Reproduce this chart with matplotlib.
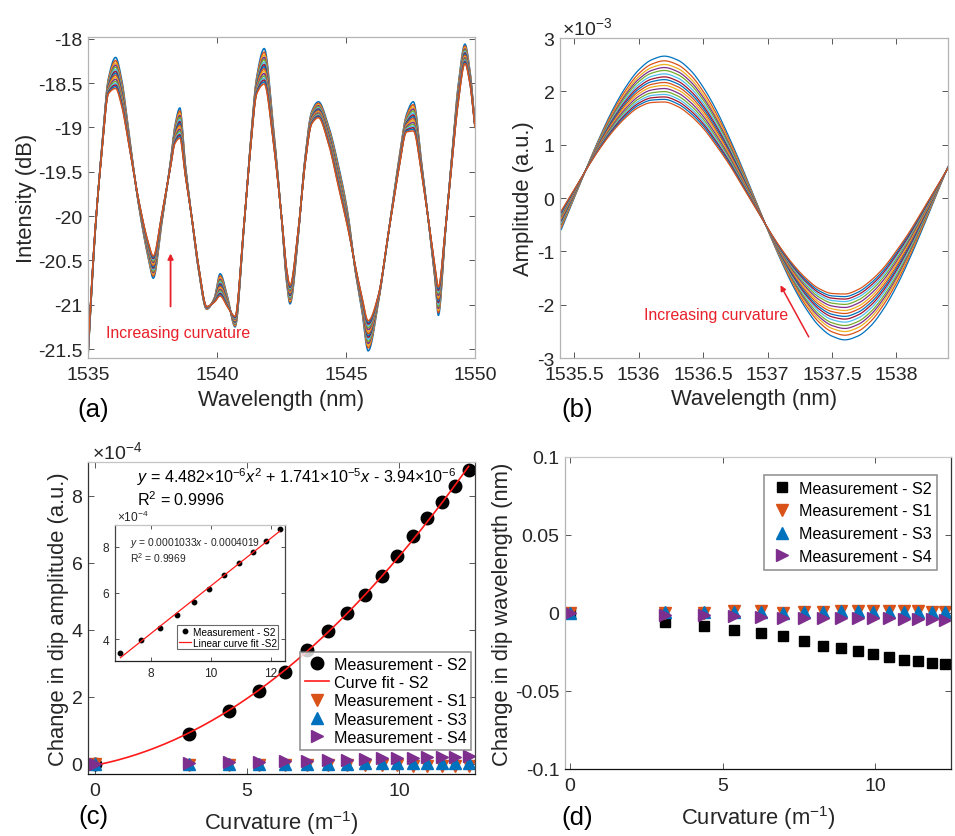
import numpy as np
import matplotlib
matplotlib.use("Agg")
import matplotlib.pyplot as plt
from matplotlib.ticker import FormatStrFormatter

# ---------------------------------------------------------------------------
# Data
# ---------------------------------------------------------------------------

# curvature steps (1/m), shared by panels (c) and (d)
curvature = [0, 3.10, 4.40, 5.38, 6.24, 6.98, 7.67, 8.29, 8.88, 9.44,
             9.94, 10.45, 10.93, 11.40, 11.85, 12.29]

# change in dip amplitude, units of 1e-4 a.u.
amp_s2 = [0, 0.89, 1.59, 2.18, 2.74, 3.39, 3.97, 4.49, 5.04, 5.61,
          6.19, 6.78, 7.32, 7.80, 8.27, 8.77]
amp_s1 = [0, -0.02, -0.02, -0.03, -0.03, -0.03, -0.03, -0.04, -0.04, -0.04,
          -0.04, -0.05, -0.05, -0.05, -0.05, -0.05]
amp_s3 = [0, 0.00, 0.00, 0.01, 0.01, 0.01, 0.01, 0.01, 0.02, 0.02,
          0.02, 0.02, 0.02, 0.02, 0.02, 0.02]
amp_s4 = [0, 0.03, 0.05, 0.07, 0.09, 0.09, 0.11, 0.13, 0.15, 0.17,
          0.18, 0.19, 0.20, 0.21, 0.22, 0.23]

# change in dip wavelength (nm)
wl_s2 = [0, -0.0058, -0.0083, -0.0109, -0.0130, -0.0150, -0.0179, -0.0214,
         -0.0224, -0.0244, -0.0263, -0.0282, -0.0301, -0.0310, -0.0321, -0.0329]
wl_s1 = [0, 0.0003, 0.0003, 0.0010, 0.0010, 0.0003, 0.0005, 0.0005,
         0.0015, 0.0015, 0.0010, 0.0010, 0.0010, 0.0010, 0.0005, 0.0008]
wl_s3 = [0, 0.0008, 0.0005, 0.0008, 0.0008, 0.0003, 0.0005, 0.0005,
         0.0010, 0.0010, 0.0008, 0.0008, 0.0008, 0.0008, 0.0005, 0.0005]
wl_s4 = [0, -0.0010, -0.0015, -0.0020, -0.0025, -0.0030, -0.0030, -0.0030,
         -0.0030, -0.0033, -0.0035, -0.0035, -0.0038, -0.0038, -0.0040, -0.0043]

# fitted curves as printed on the panel
quad_fit = (4.482e-6, 1.741e-5, -3.94e-6)
lin_fit = (0.0001033, -0.0004019)
inset_from = 5  # inset shows the points from curvature index 5 onwards

# transmission spectrum (a): wavelength knots, straight fibre and max-curvature traces
spec_wl = [1535.00, 1535.27, 1535.53, 1535.79, 1536.07, 1536.30, 1536.56, 1536.95,
           1537.34, 1537.53, 1537.85, 1538.18, 1538.37, 1538.56, 1538.76, 1539.02,
           1539.28, 1539.60, 1539.90, 1540.12, 1540.40, 1540.70, 1541.02, 1541.28,
           1541.54, 1541.83, 1542.18, 1542.51, 1542.70, 1542.83, 1543.15, 1543.41,
           1543.67, 1543.93, 1544.31, 1544.70, 1545.09, 1545.35, 1545.61, 1545.86,
           1546.25, 1546.64, 1547.03, 1547.35, 1547.61, 1547.93, 1548.26, 1548.45,
           1548.58, 1548.84, 1549.10, 1549.35, 1549.61, 1549.80, 1550.00]
spec_first = [-21.60, -20.22, -19.24, -18.45, -18.21, -18.45, -19.00, -19.85,
              -20.48, -20.70, -20.10, -19.42, -18.98, -18.78, -19.38, -20.01,
              -20.60, -21.05, -20.92, -20.65, -20.90, -21.25, -20.22, -19.24,
              -18.43, -18.11, -18.98, -20.05, -20.75, -20.99, -20.22, -19.35,
              -18.82, -18.71, -18.97, -19.42, -20.00, -20.60, -21.05, -21.52,
              -20.98, -20.20, -19.40, -18.85, -18.71, -19.40, -20.22, -20.72,
              -21.12, -20.22, -19.33, -18.52, -18.06, -18.35, -18.96]
spec_last = [-21.50, -20.18, -19.30, -18.62, -18.56, -18.75, -19.15, -19.80,
             -20.30, -20.45, -20.00, -19.48, -19.18, -19.12, -19.52, -20.01,
             -20.55, -21.02, -20.97, -20.90, -21.02, -21.13, -20.18, -19.30,
             -18.62, -18.51, -19.16, -20.03, -20.60, -20.78, -20.15, -19.42,
             -18.96, -18.89, -19.17, -19.66, -20.16, -20.55, -20.90, -21.18,
             -20.90, -20.20, -19.50, -19.05, -19.04, -19.52, -20.18, -20.58,
             -20.80, -20.18, -19.40, -18.72, -18.28, -18.50, -19.00]

# band-pass filtered spectrum (b), units of 1e-3 a.u.
fsr_wl = [1535.4, 1535.5, 1535.6, 1535.7, 1535.8, 1535.9, 1536.0, 1536.1,
          1536.2, 1536.3, 1536.4, 1536.5, 1536.6, 1536.7, 1536.8, 1536.9,
          1537.0, 1537.1, 1537.2, 1537.3, 1537.4, 1537.5, 1537.6, 1537.7,
          1537.8, 1537.9, 1538.0, 1538.1, 1538.2, 1538.3, 1538.4]
fsr_first = [-0.59, 0.00, 0.59, 1.15, 1.66, 2.08, 2.40, 2.59, 2.66, 2.59, 2.40,
             2.08, 1.66, 1.15, 0.59, 0.00, -0.59, -1.15, -1.66, -2.08, -2.40,
             -2.59, -2.66, -2.59, -2.40, -2.08, -1.66, -1.15, -0.59, 0.00, 0.59]
fsr_last = [-0.24, 0.16, 0.56, 0.93, 1.25, 1.51, 1.70, 1.79, 1.80, 1.72, 1.55,
            1.31, 0.99, 0.64, 0.24, -0.16, -0.56, -0.93, -1.25, -1.51, -1.70,
            -1.79, -1.80, -1.72, -1.55, -1.31, -0.99, -0.64, -0.24, 0.16, 0.56]

# ---------------------------------------------------------------------------
# Style
# ---------------------------------------------------------------------------

plt.rcParams.update({
    "font.family": ["Liberation Sans", "DejaVu Sans"],
    "mathtext.fontset": "custom",
    "mathtext.rm": "Liberation Sans",
    "mathtext.it": "Liberation Sans:italic",
    "mathtext.bf": "Liberation Sans:bold",
    "axes.unicode_minus": False,
    "xtick.direction": "in",
    "ytick.direction": "in",
    "xtick.top": True,
    "ytick.right": True,
})

ML_COLORS = ["#0072BD", "#D95319", "#EDB120", "#7E2F8E",
             "#77AC30", "#4DBEEE", "#A2142F"]
C_S1, C_S3, C_S4 = "#D95319", "#0072BD", "#7E2F8E"
RED = "#e8202a"
TXT = "#262626"
W, H = 955, 837


def rect(l, t, r, b):
    return [l / W, 1 - b / H, (r - l) / W, (b - t) / H]


def style(ax, fs, spines, pad=6):
    for side, col in zip(("left", "bottom", "top", "right"), spines):
        ax.spines[side].set_color(col)
        ax.spines[side].set_linewidth(0.9)
    ax.tick_params(labelsize=fs, labelcolor=TXT, length=4, width=0.7,
                   color="#555555")
    ax.tick_params(axis="x", pad=pad)
    ax.tick_params(axis="y", pad=4)


def labels(ax, xl, yl, xy, yx, fs=15.8):
    ax.set_xlabel(xl, fontsize=fs, color=TXT, va="center")
    ax.set_ylabel(yl, fontsize=fs, color=TXT, va="center")
    ax.xaxis.set_label_coords(0.5, xy)
    ax.yaxis.set_label_coords(yx, 0.5)


def pchip(xk, yk, xs):
    """Shape-preserving cubic through the knots."""
    xk = np.asarray(xk, float)
    yk = np.asarray(yk, float)
    h = np.diff(xk)
    d = np.diff(yk) / h
    m = np.zeros_like(yk)
    m[0], m[-1] = d[0], d[-1]
    for k in range(1, len(xk) - 1):
        if d[k - 1] * d[k] > 0:
            w1 = 2 * h[k] + h[k - 1]
            w2 = h[k] + 2 * h[k - 1]
            m[k] = (w1 + w2) / (w1 / d[k - 1] + w2 / d[k])
    i = np.clip(np.searchsorted(xk, xs) - 1, 0, len(xk) - 2)
    t = (xs - xk[i]) / h[i]
    h00 = 2 * t**3 - 3 * t**2 + 1
    h10 = t**3 - 2 * t**2 + t
    h01 = -2 * t**3 + 3 * t**2
    h11 = t**3 - t**2
    return h00 * yk[i] + h10 * h[i] * m[i] + h01 * yk[i + 1] + h11 * h[i] * m[i + 1]


fig = plt.figure(figsize=(W / 100, H / 100), dpi=100)

# share of the full amplitude change reached at each curvature step
frac = np.array(amp_s2) / amp_s2[-1]

# ---------------------------------------------------------------------------
# (a) transmission spectra
# ---------------------------------------------------------------------------
ax_a = fig.add_axes(rect(88, 38, 475, 359))
xs = np.linspace(spec_wl[0], spec_wl[-1], 1500)
y_first = pchip(spec_wl, spec_first, xs)
y_last = pchip(spec_wl, spec_last, xs)
for i, f in enumerate(frac):
    ax_a.plot(xs, y_first + f * (y_last - y_first),
              color=ML_COLORS[i % 7], lw=1.1)
ax_a.set_xlim(1535, 1550)
ax_a.set_ylim(-21.6, -17.98)
ax_a.set_xticks([1535, 1540, 1545, 1550])
ax_a.set_yticks(np.arange(-21.5, -17.9, 0.5))
ax_a.yaxis.set_major_formatter(FormatStrFormatter("%g"))
style(ax_a, 14, ["#b4b4b4"] * 4)
labels(ax_a, "Wavelength (nm)", "Intensity (dB)", -0.128, -0.160)
ax_a.annotate("", xy=(1538.2, -20.39), xytext=(1538.2, -21.05),
              arrowprops=dict(arrowstyle="-|>", color=RED, lw=1.3,
                              mutation_scale=8))
ax_a.text(1538.5, -21.31, "Increasing curvature", color=RED, fontsize=11.4,
          ha="center", va="center")

# ---------------------------------------------------------------------------
# (b) filtered spectra
# ---------------------------------------------------------------------------
ax_b = fig.add_axes(rect(560, 39, 948, 359))
xs = np.linspace(fsr_wl[0], fsr_wl[-1], 800)
y_first = pchip(fsr_wl, fsr_first, xs)
y_last = pchip(fsr_wl, fsr_last, xs)
for i, f in enumerate(frac):
    ax_b.plot(xs, y_first + f * (y_last - y_first),
              color=ML_COLORS[i % 7], lw=0.9)
ax_b.set_xlim(1535.39, 1538.4)
ax_b.set_ylim(-3, 3)
ax_b.set_xticks([1535.5, 1536, 1536.5, 1537, 1537.5, 1538])
ax_b.xaxis.set_major_formatter(FormatStrFormatter("%g"))
ax_b.set_yticks(range(-3, 4))
style(ax_b, 14, ["#b4b4b4"] * 4)
labels(ax_b, "Wavelength (nm)", "Amplitude (a.u.)", -0.128, -0.093)
ax_b.text(0.005, 1.034, r"$\times$10$^{-3}$", transform=ax_b.transAxes,
          fontsize=14, color=TXT, ha="left", va="center")
ax_b.annotate("", xy=(1537.09, -1.59), xytext=(1537.33, -2.65),
              arrowprops=dict(arrowstyle="-|>", color=RED, lw=1.1,
                              mutation_scale=8))
ax_b.text(1536.60, -2.18, "Increasing curvature", color=RED, fontsize=11.4,
          ha="center", va="center")

# ---------------------------------------------------------------------------
# (c) dip amplitude vs curvature
# ---------------------------------------------------------------------------
ax_c = fig.add_axes(rect(88, 463, 475, 775))
xf = np.linspace(0, curvature[-1], 200)
qa, qb, qc = quad_fit
ax_c.plot(curvature, amp_s2, "o", color="k", ms=9, label="Measurement - S2")
ax_c.plot(xf, (qa * xf**2 + qb * xf + qc) * 1e4, color="#ff1a1a", lw=1.2,
          label="Curve fit - S2")
ax_c.plot(curvature, amp_s1, "v", color=C_S1, ms=8, label="Measurement - S1")
ax_c.plot(curvature, amp_s3, "^", color=C_S3, ms=8, label="Measurement - S3")
ax_c.plot(curvature, amp_s4, ">", color=C_S4, ms=8, label="Measurement - S4")
ax_c.set_xlim(-0.23, 12.5)
ax_c.set_ylim(-0.3, 9.0)
ax_c.set_xticks([0, 5, 10])
ax_c.set_yticks([0, 2, 4, 6, 8])
style(ax_c, 14, ["#333333", "#111111", "#c4c4c4", "#444444"])
labels(ax_c, r"Curvature (m$^{-1}$)", "Change in dip amplitude (a.u.)",
       -0.154, -0.075)
ax_c.text(0.01, 1.035, r"$\times$10$^{-4}$", transform=ax_c.transAxes,
          fontsize=14, color=TXT, ha="left", va="center")
ax_c.text(0.127, 0.955,
          r"$y$ = 4.482$\times$10$^{-6}$$x^2$ + 1.741$\times$10$^{-5}$$x$"
          r" - 3.94$\times$10$^{-6}$",
          transform=ax_c.transAxes, fontsize=11.6, color="k", va="center")
ax_c.text(0.127, 0.881, r"R$^2$ = 0.9996", transform=ax_c.transAxes,
          fontsize=11.6, color="k", va="center")
leg = ax_c.legend(loc="upper right", bbox_to_anchor=(0.99, 0.391),
                  fontsize=11.6, frameon=True, fancybox=False,
                  handlelength=1.5, handletextpad=0.3, labelspacing=0.2,
                  borderpad=0.3, borderaxespad=0)
leg.get_frame().set_edgecolor("#7a7a7a")
leg.get_frame().set_linewidth(1.2)

# inset: linear region of the S2 response
ax_i = fig.add_axes(rect(115, 526, 285, 662))
xi = np.array(curvature[inset_from:])
yi = np.array(amp_s2[inset_from:])
ax_i.plot(xi, yi, "o", color="k", ms=3.2, label="Measurement - S2")
ax_i.plot(xi, (lin_fit[0] * xi + lin_fit[1]) * 1e4, color="#ff1a1a", lw=0.9,
          label="Linear curve fit -S2")
ax_i.set_xlim(6.8, 12.47)
ax_i.set_ylim(3.05, 8.95)
ax_i.set_xticks([8, 10, 12])
ax_i.set_yticks([4, 6, 8])
style(ax_i, 8.6, ["#444444", "#222222", "#c4c4c4", "#444444"], pad=4)
ax_i.tick_params(length=3)
ax_i.text(0.012, 1.06, r"$\times$10$^{-4}$", transform=ax_i.transAxes,
          fontsize=8.6, color=TXT, ha="left", va="center")
ax_i.text(0.088, 0.875, r"$y$ = 0.0001033$x$ - 0.0004019",
          transform=ax_i.transAxes, fontsize=7.4, color=TXT, va="center")
ax_i.text(0.088, 0.765, r"R$^2$ = 0.9969", transform=ax_i.transAxes,
          fontsize=7.4, color=TXT, va="center")
leg_i = ax_i.legend(loc="lower right", bbox_to_anchor=(0.959, 0.088),
                    fontsize=7.2, frameon=True, fancybox=False,
                    handlelength=1.2, handletextpad=0.2, labelspacing=0.1,
                    borderpad=0.15, borderaxespad=0)
leg_i.get_frame().set_edgecolor("#444444")
leg_i.get_frame().set_linewidth(0.8)

# ---------------------------------------------------------------------------
# (d) dip wavelength vs curvature
# ---------------------------------------------------------------------------
ax_d = fig.add_axes(rect(565, 458, 951, 770))
ax_d.plot(curvature, wl_s2, "s", color="k", ms=6.8, label="Measurement - S2")
ax_d.plot(curvature, wl_s1, "v", color=C_S1, ms=8, label="Measurement - S1")
ax_d.plot(curvature, wl_s3, "^", color=C_S3, ms=8, label="Measurement - S3")
ax_d.plot(curvature, wl_s4, ">", color=C_S4, ms=8, label="Measurement - S4")
ax_d.set_xlim(-0.17, 12.48)
ax_d.set_ylim(-0.1, 0.1)
ax_d.set_xticks([0, 5, 10])
ax_d.set_yticks([-0.1, -0.05, 0, 0.05, 0.1])
ax_d.yaxis.set_major_formatter(FormatStrFormatter("%g"))
style(ax_d, 14, ["#b4b4b4", "#111111", "#c8c8c8", "#333333"])
labels(ax_d, r"Curvature (m$^{-1}$)", "Change in dip wavelength (nm)",
       -0.154, -0.163)
leg_d = ax_d.legend(loc="upper right", bbox_to_anchor=(0.964, 0.942),
                    fontsize=11.6, frameon=True, fancybox=False,
                    handlelength=1.5, handletextpad=0.3, labelspacing=0.48,
                    borderpad=0.35, borderaxespad=0)
leg_d.get_frame().set_edgecolor("#7a7a7a")
leg_d.get_frame().set_linewidth(1.2)

# panel letters
for letter, (px, py) in zip("abcd", [(93, 410), (577, 410), (93, 817), (577, 818)]):
    fig.text(px / W, 1 - py / H, f"({letter})", fontsize=18.5, color="k",
             ha="center", va="center")

fig.savefig("out.png", dpi=100)
